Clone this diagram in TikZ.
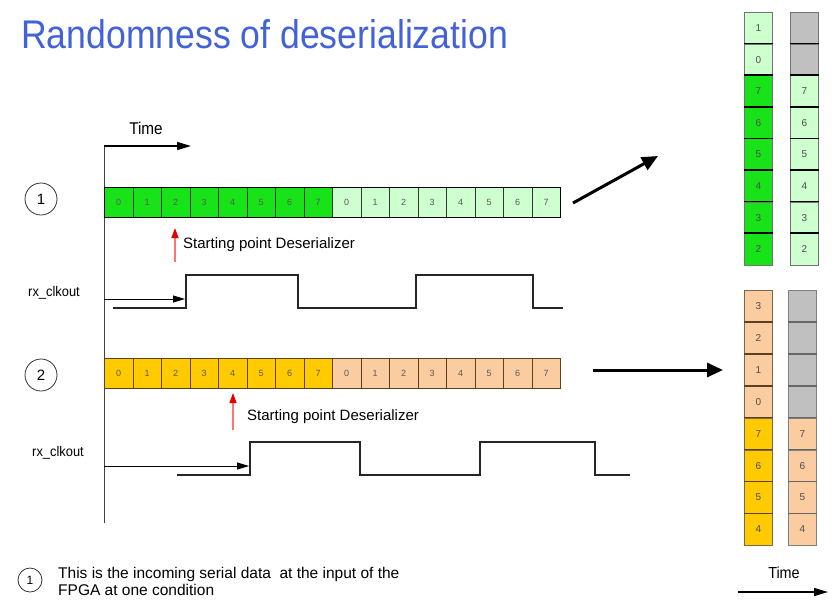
\documentclass[tikz,border=0pt]{standalone}
\usepackage{fontspec}
\setmainfont{Liberation Sans}
\usetikzlibrary{arrows.meta}
\definecolor{titleblue}{RGB}{66,98,214}
\definecolor{brightgreen}{RGB}{24,226,24}
\definecolor{palegreen}{RGB}{206,255,206}
\definecolor{gold}{RGB}{255,202,0}
\definecolor{peach}{RGB}{250,204,160}
\definecolor{emptycell}{RGB}{192,192,192}
\definecolor{rowedge}{RGB}{92,64,34}
\newcommand{\narrowtext}[2][0.9]{\scalebox{#1}[1]{#2}}
\begin{document}
\begin{tikzpicture}[x=1pt,y=-1pt,
  cellbox/.style={draw=black!80, line width=0.7pt, minimum width=28.5pt,
    minimum height=30pt, inner sep=0pt, anchor=north west,
    font=\fontsize{9}{9}\selectfont, text=black!65},
  stackcell/.style={draw=black!55, line width=0.6pt, minimum width=28pt,
    minimum height=31.6pt, inner sep=0pt, anchor=north west,
    font=\fontsize{10}{10}\selectfont, text=black!70},
  rowmark/.style={circle, draw=black!80, line width=0.8pt, minimum size=32pt,
    inner sep=0pt, font=\fontsize{15}{15}\selectfont},
  wave/.style={line width=1.3pt, black!85},
  startarrow/.style={draw=red!55, line width=1.5pt,
    -{Triangle[length=10pt,width=7pt,color=red!90!black]}},
  entryarrow/.style={line width=0.9pt, -{Triangle[length=12pt,width=7pt]}},
  bigarrow/.style={line width=3pt, -{Triangle[length=16pt,width=14pt]}},
  timearrow/.style={line width=1.3pt, -{Triangle[length=14pt,width=8pt]}},
  plain/.style={inner sep=0pt, font=\fontsize{15}{15}\selectfont}
]
\useasboundingbox[fill=white] (0,0) rectangle (834,600);

% title
\node[plain, anchor=west, text=titleblue, font=\fontsize{40}{40}\selectfont]
  (title) at (21,34) {\narrowtext[0.89]{Randomness of deserialization}};

% time axis
\coordinate (axtop) at (104,146);
\coordinate (axbot) at (104,523);
\coordinate (tend) at (191,146);
\draw[line width=0.9pt, black!75] (axtop) -- (axbot);
\draw[timearrow] (axtop) -- (tend);
\node[plain, font=\fontsize{17}{17}\selectfont] (tlabel) at (146,128) {\narrowtext{Time}};

% ---- case 1: serial stream
\node[rowmark] (m1) at (41,199) {1};
\foreach \i in {0,...,15} {
  \pgfmathtruncatemacro\d{mod(\i,8)}
  \ifnum\i<8 \def\cf{brightgreen}\else\def\cf{palegreen}\fi
  \node[cellbox, fill=\cf] (r1c\i) at ({104+28.5*\i},187) {\d};
}
\draw[line width=1pt] (r1c0.north west) rectangle (r1c15.south east);

\coordinate (s1foot) at (175,262);
\coordinate (s1tip) at (175,228);
\draw[startarrow] (s1foot) -- (s1tip);
\node[plain, anchor=west] (s1txt) at (183,245) {Starting point Deserializer};

\node[plain, font=\fontsize{14}{14}\selectfont] (ck1) at (54,293) {\narrowtext[0.92]{rx\_clkout}};
\draw[wave] (113,308) -| (186,275) -| (298,308) -| (416,275) -| (533,308) -- (563,308);
\coordinate (c1in) at (104,299);
\coordinate (c1rise) at (185,299);
\draw[entryarrow] (c1in) -- (c1rise);

% ---- case 2: serial stream
\node[rowmark] (m2) at (41,375) {2};
\foreach \i in {0,...,15} {
  \pgfmathtruncatemacro\d{mod(\i,8)}
  \ifnum\i<8 \def\cf{gold}\else\def\cf{peach}\fi
  \node[cellbox, draw=rowedge, fill=\cf] (r2c\i) at ({104+28.5*\i},358) {\d};
}
\draw[line width=1pt, rowedge] (r2c0.north west) rectangle (r2c15.south east);

\coordinate (s2foot) at (233,430);
\coordinate (s2tip) at (233,393);
\draw[startarrow] (s2foot) -- (s2tip);
\node[plain, anchor=west] (s2txt) at (247,417) {Starting point Deserializer};

\node[plain, font=\fontsize{14}{14}\selectfont] (ck2) at (58,453) {\narrowtext[0.92]{rx\_clkout}};
\draw[wave] (177,475) -| (250,442) -| (360,475) -| (480,442) -| (595,475) -- (630,475);
\coordinate (c2in) at (104,466);
\coordinate (c2rise) at (249,466);
\draw[entryarrow] (c2in) -- (c2rise);

% ---- parallel words
\coordinate (p1from) at (573,203);
\coordinate (p1to) at (658,156);
\draw[bigarrow] (p1from) -- (p1to);
\coordinate (p2from) at (593,370);
\coordinate (p2to) at (723,370);
\draw[bigarrow] (p2from) -- (p2to);

\foreach \v [count=\k from 0] in {1,0,7,6,5,4,3,2} {
  \ifnum\k<2 \def\cf{palegreen}\else\def\cf{brightgreen}\fi
  \node[stackcell, fill=\cf] (a\k) at (744,{12+31.6*\k}) {\v};
}
\foreach \v [count=\k from 0] in {,,7,6,5,4,3,2} {
  \ifnum\k<2 \def\cf{emptycell}\else\def\cf{palegreen}\fi
  \node[stackcell, fill=\cf] (b\k) at (790,{12+31.6*\k}) {\v};
}
\foreach \k in {1,...,7} {
  \draw[line width=1.6pt] (a\k.north west) -- (a\k.north east);
  \draw[line width=1.6pt] (b\k.north west) -- (b\k.north east);
}

\foreach \v [count=\k from 0] in {3,2,1,0,7,6,5,4} {
  \ifnum\k<4 \def\cf{peach}\else\def\cf{gold}\fi
  \node[stackcell, draw=rowedge!80, fill=\cf] (c\k) at (744,{290+31.9*\k}) {\v};
}
\foreach \v [count=\k from 0] in {,,,,7,6,5,4} {
  \ifnum\k<4 \def\cf{emptycell}\else\def\cf{peach}\fi
  \node[stackcell, draw=black!50, fill=\cf] (d\k) at (788,{290+31.9*\k}) {\v};
}
\foreach \k in {1,...,7} {
  \draw[line width=1.6pt, rowedge] (c\k.north west) -- (c\k.north east);
  \draw[line width=1.6pt, black!60] (d\k.north west) -- (d\k.north east);
}

% time direction, lower right
\node[plain, font=\fontsize{16}{16}\selectfont] (tlabel2) at (784,573) {\narrowtext{Time}};
\coordinate (t2from) at (738,592);
\coordinate (t2to) at (828,592);
\draw[timearrow] (t2from) -- (t2to);

% legend
\node[rowmark, minimum size=24pt, font=\fontsize{12}{12}\selectfont] (lg) at (30,580) {1};
\node[plain, anchor=west, align=left, font=\fontsize{15.5}{17}\selectfont] (lgtxt) at (58,581)
  {This is the incoming serial data\ \ at the input of the\\
   FPGA at one condition};
\end{tikzpicture}
\end{document}
